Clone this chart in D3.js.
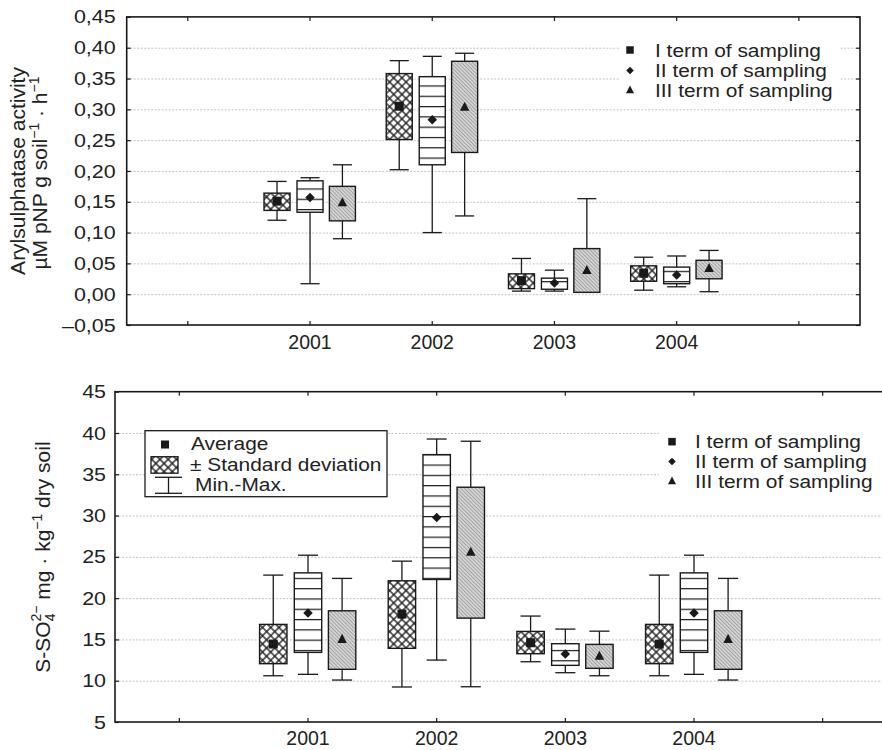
<!DOCTYPE html>
<html><head><meta charset="utf-8">
<script src="https://cdn.jsdelivr.net/npm/d3@7"></script>
<style>
body{margin:0;background:#fff;}
svg{display:block;font-family:"Liberation Sans",Arial,Helvetica,sans-serif;}
</style></head>
<body>
<svg id="c" width="882" height="750"></svg>
<script>
// ---------- data ----------
const xTickLabels = ["", "2001", "2002", "2003", "2004", ""];
const years = ["2001", "2002", "2003", "2004"];
const terms = ["I term of sampling", "II term of sampling", "III term of sampling"];

// Arylsulphatase activity: per year [I, II, III]
const aryMin  = [[0.120,0.017,0.090],[0.202,0.100,0.127],[0.005,0.005,0.003],[0.0065,0.012,0.004]];
const aryLo   = [[0.136,0.133,0.119],[0.251,0.210,0.230],[0.009,0.008,0.003],[0.021,0.017,0.025]];
const aryMean = [[0.151,0.157,0.149],[0.305,0.283,0.304],[0.022,0.018,0.039],[0.034,0.031,0.042]];
const aryHi   = [[0.164,0.184,0.175],[0.358,0.353,0.378],[0.033,0.026,0.074],[0.046,0.044,0.055]];
const aryMax  = [[0.183,0.189,0.210],[0.379,0.386,0.391],[0.058,0.039,0.155],[0.060,0.062,0.071]];
const aryTicks = [-0.05,0,0.05,0.10,0.15,0.20,0.25,0.30,0.35,0.40,0.45];

// S-SO4 mg/kg: per year [I, II, III]
const soMin  = [[10.6,10.77,10.08],[9.24,12.5,9.27],[12.3,10.97,10.6],[10.6,10.77,10.08]];
const soLo   = [[12.06,13.43,11.38],[13.92,22.26,17.58],[13.27,11.86,11.5],[12.06,13.43,11.38]];
const soMean = [[14.44,18.19,15.04],[18.07,29.76,25.6],[14.6,13.23,12.99],[14.44,18.19,15.04]];
const soHi   = [[16.82,23.06,18.47],[22.1,37.38,33.43],[15.97,14.48,14.4],[16.82,23.06,18.47]];
const soMax  = [[22.79,25.2,22.39],[24.48,39.27,39.0],[17.83,16.25,16.0],[22.79,25.2,22.39]];
const soTicks = [5,10,15,20,25,30,35,40,45];

// ---------- drawing ----------
const svg = d3.select("#c");
const defs = svg.append("defs");
const INK = "#1a1a1a";
const TXT = "#222";
const SX = 1.13; // horizontal stretch of the reference lettering

// marker shapes (size = full width in px)
const mkSquare  = {draw(c,s){c.moveTo(-s/2,-s/2);c.lineTo(s/2,-s/2);c.lineTo(s/2,s/2);c.lineTo(-s/2,s/2);c.closePath();}};
const mkDiamond = {draw(c,s){c.moveTo(0,-s/2);c.lineTo(s/2,0);c.lineTo(0,s/2);c.lineTo(-s/2,0);c.closePath();}};
const mkTri     = {draw(c,s){c.moveTo(0,-s*0.55);c.lineTo(s/2,s*0.4);c.lineTo(-s/2,s*0.4);c.closePath();}};
const markers = [mkSquare, mkDiamond, mkTri];

function makePatterns(id, stripeOffset){
  const ch = defs.append("pattern").attr("id","cross"+id).attr("patternUnits","userSpaceOnUse")
    .attr("width",5.8).attr("height",5.8).attr("patternTransform","rotate(45)");
  ch.append("rect").attr("width",5.8).attr("height",5.8).attr("fill","#fff");
  ch.append("line").attr("x1",0).attr("x2",5.8).attr("y1",2.9).attr("y2",2.9).attr("stroke",INK).attr("stroke-width",1.35);
  ch.append("line").attr("y1",0).attr("y2",5.8).attr("x1",2.9).attr("x2",2.9).attr("stroke",INK).attr("stroke-width",1.35);

  const hs = defs.append("pattern").attr("id","stripe"+id).attr("patternUnits","userSpaceOnUse")
    .attr("width",10).attr("height",10.3).attr("y",stripeOffset);
  hs.append("rect").attr("width",10).attr("height",10.3).attr("fill","#fff");
  hs.append("line").attr("x1",0).attr("x2",10).attr("y1",0.6).attr("y2",0.6).attr("stroke",INK).attr("stroke-width",1.2);

  const gr = defs.append("pattern").attr("id","gray"+id).attr("patternUnits","userSpaceOnUse")
    .attr("width",2.6).attr("height",2.6).attr("patternTransform","rotate(-45)");
  gr.append("rect").attr("width",2.6).attr("height",2.6).attr("fill","#d4d4d4");
  gr.append("line").attr("x1",1.3).attr("x2",1.3).attr("y1",0).attr("y2",2.6).attr("stroke","#909090").attr("stroke-width",0.7);
}
makePatterns("A", 3.0);
makePatterns("B", 1.0);

function stretchText(sel){
  sel.each(function(){
    const t = d3.select(this);
    const x = +t.attr("x") || 0;
    t.attr("x", x/SX).attr("transform", `scale(${SX},1)`);
  });
}

function drawPanel(cfg){
  const g = svg.append("g");
  const x = d3.scaleBand().domain(d3.range(xTickLabels.length)).range([cfg.x0, cfg.x1]).padding(0);
  const y = d3.scaleLinear().domain(cfg.domain).range([cfg.y1, cfg.y0]);
  const bw = x.bandwidth();
  const W = cfg.x1 - cfg.x0, H = cfg.y1 - cfg.y0;

  // gridlines
  g.append("g").attr("transform",`translate(${cfg.x0},0)`)
    .call(d3.axisLeft(y).tickValues(cfg.ticks.slice(1,-1)).tickSize(-W).tickFormat(""))
    .call(a=>a.select(".domain").remove())
    .call(a=>a.selectAll("line").attr("stroke","#c4c4c4").attr("stroke-width",1).attr("stroke-dasharray","2,1.5"));

  // legend background (white) for term legend
  g.append("rect").attr("x",cfg.legBg[0]).attr("y",cfg.legBg[1]).attr("width",cfg.legBg[2]).attr("height",cfg.legBg[3]).attr("fill","#fff");

  const offs = [-0.27, 0, 0.265];
  const fills = ["url(#cross"+cfg.id+")","url(#stripe"+cfg.id+")","url(#gray"+cfg.id+")"];
  const boxW = 0.213*bw, capW = 0.156*bw;
  const items = [];
  years.forEach((yr,i)=>{
    for(let t=0;t<3;t++){
      items.push({cx: x(i+1)+bw/2 + offs[t]*bw, t,
        min: cfg.min[i][t], lo: cfg.lo[i][t], mean: cfg.mean[i][t], hi: cfg.hi[i][t], max: cfg.max[i][t]});
    }
  });
  const bx = g.append("g").selectAll("g").data(items).join("g");
  bx.append("line").attr("x1",d=>d.cx).attr("x2",d=>d.cx).attr("y1",d=>y(d.max)).attr("y2",d=>y(d.hi)).attr("stroke",INK).attr("stroke-width",1.3);
  bx.append("line").attr("x1",d=>d.cx).attr("x2",d=>d.cx).attr("y1",d=>y(d.lo)).attr("y2",d=>y(d.min)).attr("stroke",INK).attr("stroke-width",1.3);
  bx.append("line").attr("x1",d=>d.cx-capW/2).attr("x2",d=>d.cx+capW/2).attr("y1",d=>y(d.max)).attr("y2",d=>y(d.max)).attr("stroke",INK).attr("stroke-width",1.3);
  bx.append("line").attr("x1",d=>d.cx-capW/2).attr("x2",d=>d.cx+capW/2).attr("y1",d=>y(d.min)).attr("y2",d=>y(d.min)).attr("stroke",INK).attr("stroke-width",1.3);
  bx.append("rect").attr("x",d=>d.cx-boxW/2).attr("width",boxW).attr("y",d=>y(d.hi)).attr("height",d=>y(d.lo)-y(d.hi))
    .attr("fill",d=>fills[d.t]).attr("stroke",INK).attr("stroke-width",1.4);
  bx.append("path").attr("transform",d=>`translate(${d.cx},${y(d.mean)})`)
    .attr("d",d=>d3.symbol().type(markers[d.t]).size([9,9.5,9.5][d.t])())
    .attr("fill",INK);

  // frame
  g.append("rect").attr("x",cfg.x0).attr("y",cfg.y0).attr("width",W).attr("height",H).attr("fill","none").attr("stroke",INK).attr("stroke-width",1.6);

  // left axis
  g.append("g").attr("transform",`translate(${cfg.x0},0)`)
    .call(d3.axisLeft(y).tickValues(cfg.ticks).tickSize(-4).tickPadding(cfg.lpad).tickFormat(cfg.fmt))
    .call(a=>a.select(".domain").remove())
    .call(a=>a.selectAll("line").attr("stroke",INK).attr("stroke-width",1.2))
    .call(a=>a.selectAll("text").attr("font-size",19).attr("fill",TXT).attr("font-family","Liberation Sans, Arial, sans-serif").call(stretchText));
  // right axis
  g.append("g").attr("transform",`translate(${cfg.x1},0)`)
    .call(d3.axisRight(y).tickValues(cfg.ticks).tickSize(-4).tickFormat(""))
    .call(a=>a.select(".domain").remove())
    .call(a=>a.selectAll("line").attr("stroke",INK).attr("stroke-width",1.2));
  // top axis
  g.append("g").attr("transform",`translate(0,${cfg.y0})`)
    .call(d3.axisTop(x).tickSize(-4).tickFormat(""))
    .call(a=>a.select(".domain").remove())
    .call(a=>a.selectAll("line").attr("stroke",INK).attr("stroke-width",1.2));
  // bottom axis
  g.append("g").attr("transform",`translate(0,${cfg.y1})`)
    .call(d3.axisBottom(x).tickSize(-4).tickPadding(cfg.bpad).tickFormat(i=>xTickLabels[i]))
    .call(a=>a.select(".domain").remove())
    .call(a=>a.selectAll("line").attr("stroke",INK).attr("stroke-width",1.2))
    .call(a=>a.selectAll("text").attr("font-size",19.5).attr("fill",TXT).attr("font-family","Liberation Sans, Arial, sans-serif"));

  // term legend
  const lg = g.append("g");
  terms.forEach((t,k)=>{
    lg.append("path").attr("transform",`translate(${cfg.legMx},${cfg.legY[k]})`)
      .attr("d",d3.symbol().type(markers[k]).size([7.5,7.5,8][k])())
      .attr("fill",INK);
    lg.append("text").attr("x",cfg.legTx).attr("y",cfg.legY[k]).attr("dy","0.36em")
      .attr("font-size",18.5).attr("fill",TXT).text(t).call(stretchText);
  });
  return {x,y,g};
}

const fmtComma = v => (v<0?"\u2013":"") + Math.abs(v).toFixed(2).replace(".",",");

drawPanel({id:"A", x0:126.7, x1:860, y0:16.9, y1:325, domain:[-0.05,0.45], ticks:aryTicks,
  min:aryMin, lo:aryLo, mean:aryMean, hi:aryHi, max:aryMax, fmt:fmtComma, lpad:11, bpad:10,
  legBg:[620,36,219,64], legMx:630, legTx:655, legY:[50,70.5,90]});

drawPanel({id:"B", x0:115, x1:887, y0:391.7, y1:722, domain:[5,45], ticks:soTicks,
  min:soMin, lo:soLo, mean:soMean, hi:soHi, max:soMax, fmt:d3.format("d"), lpad:9, bpad:9.5,
  legBg:[659,424,230,68], legMx:672, legTx:695, legY:[441.7,461.5,481]});

// ---------- axis titles ----------
svg.append("text").attr("transform","translate(25,171) rotate(-90)")
  .attr("text-anchor","middle").attr("font-size",21).attr("fill",TXT).text("Arylsulphatase activity");
const t2 = svg.append("text").attr("transform","translate(47,173) rotate(-90)")
  .attr("text-anchor","middle").attr("font-size",21).attr("fill",TXT);
t2.append("tspan").text("\u00b5M pNP g soil");
t2.append("tspan").attr("font-size",14).attr("dy",-8).text("\u22121");
t2.append("tspan").attr("dy",8).text(" \u00b7 h");
t2.append("tspan").attr("font-size",14).attr("dy",-8).text("\u22121");

const t3 = svg.append("text").attr("transform","translate(50,557) rotate(-90)")
  .attr("text-anchor","middle").attr("font-size",21).attr("fill",TXT);
t3.append("tspan").text("S-SO");
t3.append("tspan").attr("font-size",14).attr("dy",5).text("4");
t3.append("tspan").attr("font-size",14).attr("dx",-8).attr("dy",-14).text("2\u2212");
t3.append("tspan").attr("dy",9).text(" mg \u00b7 kg");
t3.append("tspan").attr("font-size",14).attr("dy",-8).text("\u22121");
t3.append("tspan").attr("dy",8).text(" dry soil");

// ---------- box legend (bottom panel) ----------
const bl = svg.append("g");
bl.append("rect").attr("x",145).attr("y",430.7).attr("width",242).attr("height",66).attr("fill","#fff").attr("stroke",INK).attr("stroke-width",1.3);
bl.append("path").attr("transform","translate(165,444.5)").attr("d",d3.symbol().type(mkSquare).size(8)()).attr("fill",INK);
bl.append("rect").attr("x",151).attr("y",456.7).attr("width",27).attr("height",16.5).attr("fill","url(#crossB)").attr("stroke",INK).attr("stroke-width",1.3);
bl.append("line").attr("x1",155).attr("x2",182).attr("y1",477.3).attr("y2",477.3).attr("stroke",INK).attr("stroke-width",1.3);
bl.append("line").attr("x1",168.5).attr("x2",168.5).attr("y1",477.3).attr("y2",493.3).attr("stroke",INK).attr("stroke-width",1.3);
bl.append("line").attr("x1",155).attr("x2",182).attr("y1",493.3).attr("y2",493.3).attr("stroke",INK).attr("stroke-width",1.3);
const legTexts = ["Average","\u00b1 Standard deviation","Min.-Max."];
const legX = [191,190,195], legYb = [450,471,491];
legTexts.forEach((s,k)=>bl.append("text").attr("x",legX[k]).attr("y",legYb[k]).attr("font-size",18.5).attr("fill",TXT).text(s).call(stretchText));
</script>
</body></html>
